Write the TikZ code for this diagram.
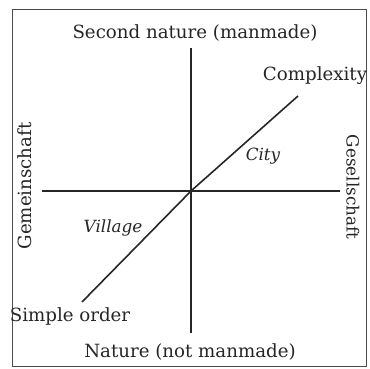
\documentclass[tikz,border=0pt]{standalone}
\usepackage{fontspec}
\setmainfont{DejaVu Serif}
\begin{document}
\begin{tikzpicture}[x=0.5pt,y=-0.5pt,
  lbl/.style={inner sep=0pt,font=\fontsize{9.1}{11}\selectfont,text=black!85},
  ilbl/.style={lbl,font=\fontsize{8.4}{10}\itshape\selectfont},
  axis/.style={line width=0.8pt,black!85},
  frame/.style={line width=0.5pt,black!70}]
\useasboundingbox (0,0) rectangle (370,369);
\draw[frame] (12,10) rectangle (366,366);
\node[lbl] (top) at (195,33) {Second nature (manmade)};
\node[lbl] (bot) at (190,352) {Nature (not manmade)};
\node[lbl] (cx) at (315,76) {Complexity};
\node[lbl] (so) at (70,316) {Simple order};
\node[ilbl] (city) at (263,156) {City};
\node[ilbl] (vil) at (113,228) {Village};
\node[lbl,rotate=90] (gem) at (25,186) {Gemeinschaft};
\node[lbl,rotate=-90,font=\fontsize{8.4}{10}\selectfont] (ges) at (353,187) {Gesellschaft};
\coordinate (vt) at (191,48);
\coordinate (vb) at (191,333);
\coordinate (hl) at (42,191);
\coordinate (hr) at (340,191);
\coordinate (o) at (191,191);
\coordinate (dl) at (82,302);
\coordinate (dr) at (298,96);
\draw[axis] (vt) -- (vb);
\draw[axis] (hl) -- (hr);
\draw[axis] (dl) -- (o) -- (dr);
\end{tikzpicture}
\end{document}
